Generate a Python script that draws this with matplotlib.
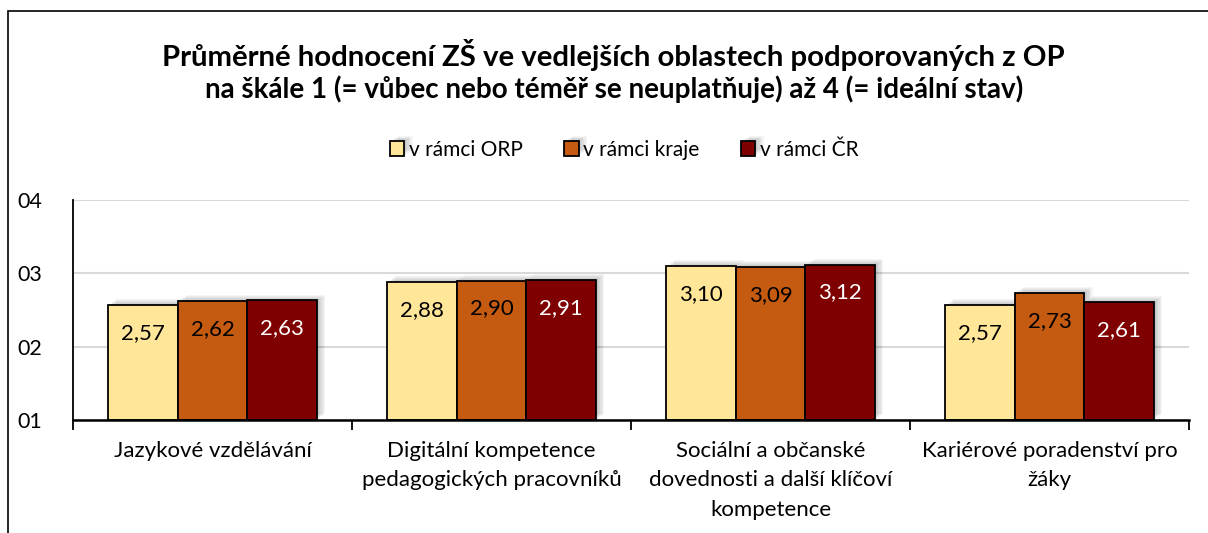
import matplotlib
matplotlib.use("Agg")
from matplotlib import pyplot as plt
from matplotlib import patheffects as pe
from matplotlib.patches import Rectangle
import numpy as np

plt.rcParams['font.family'] = ['Lato', 'DejaVu Sans']

categories = ["Jazykové vzdělávání",
              "Digitální kompetence\npedagogických pracovníků",
              "Sociální a občanské\ndovednosti a další klíčoví\nkompetence",
              "Kariérové poradenství pro\nžáky"]
series = ["v rámci ORP", "v rámci kraje", "v rámci ČR"]
orp = [2.57, 2.88, 3.10, 2.57]
kraj = [2.62, 2.90, 3.09, 2.73]
cr = [2.63, 2.91, 3.12, 2.61]
values = [orp, kraj, cr]
colors = ["#FFE699", "#C55A11", "#7F0000"]
label_colors = ["black", "black", "white"]

fig = plt.figure(figsize=(12.08, 5.33), dpi=100)
ax = fig.add_axes([73/1208, 1-420/533, (1189-73)/1208, 220/533])

# outer frame of the chart
fig.patches.append(Rectangle((8/1208, -0.1), 1.2, 1.1 - 11/533, transform=fig.transFigure,
                             fill=False, ec='black', lw=1.2, zorder=0))

x = np.arange(len(categories))
w = 0.25
shadow = [pe.SimplePatchShadow(offset=(d, d*0.7), shadow_rgbFace='black', alpha=0.04) for d in (1, 2, 3, 4, 5, 6)]
for i, (vals, col, lc) in enumerate(zip(values, colors, label_colors)):
    bars = ax.bar(x + (i-1)*w, np.array(vals) - 1, w, bottom=1, color=col, edgecolor='black',
                  lw=1.3, label=series[i], zorder=3)
    for b, v in zip(bars, vals):
        b.set_path_effects(shadow + [pe.Normal()])
        ax.text(b.get_x() + b.get_width()/2, v - 0.38, f"{v:.2f}".replace('.', ','),
                ha='center', va='center', fontsize=16, color=lc, zorder=4)

ax.set_ylim(1, 4)
ax.set_xlim(-0.5, 3.5)
ax.set_yticks([1, 2, 3, 4])
ax.set_yticklabels(["01", "02", "03", "04"], fontsize=15.5)
ax.tick_params(axis='y', length=0, pad=22)
ax.set_xticks(np.arange(-0.5, 4, 1))
ax.set_xticklabels([])
ax.tick_params(axis='x', which='major', length=7, width=1.3, direction='out')
ax.set_xticks(x, minor=True)
ax.set_xticklabels(categories, minor=True, fontsize=16, linespacing=1.6, va='top')
ax.tick_params(axis='x', which='minor', length=0, pad=15)
ax.grid(axis='y', color='#D9D9D9', lw=1.5, zorder=0)
ax.set_axisbelow(True)
for s in ['top', 'right']:
    ax.spines[s].set_visible(False)
ax.spines['left'].set_linewidth(1.3)
ax.spines['bottom'].set_linewidth(1.8)
ax.spines['bottom'].set_zorder(5)

fig.text(0.508, 1-55/533, "Průměrné hodnocení ZŠ ve vedlejších oblastech podporovaných z OP",
         ha='center', va='center', fontsize=21.2, fontweight='bold')
fig.text(0.508, 1-89/533, "na škále 1 (= vůbec nebo téměř se neuplatňuje) až 4 (= ideální stav)",
         ha='center', va='center', fontsize=20, fontweight='bold')

leg = fig.legend(loc='center', bbox_to_anchor=(624/1208, 1-150/533), ncol=3, frameon=False,
                 fontsize=15, handlelength=0.7, handleheight=0.7, handletextpad=0.2,
                 columnspacing=2.0)

fig.savefig("out.png", dpi=100)
